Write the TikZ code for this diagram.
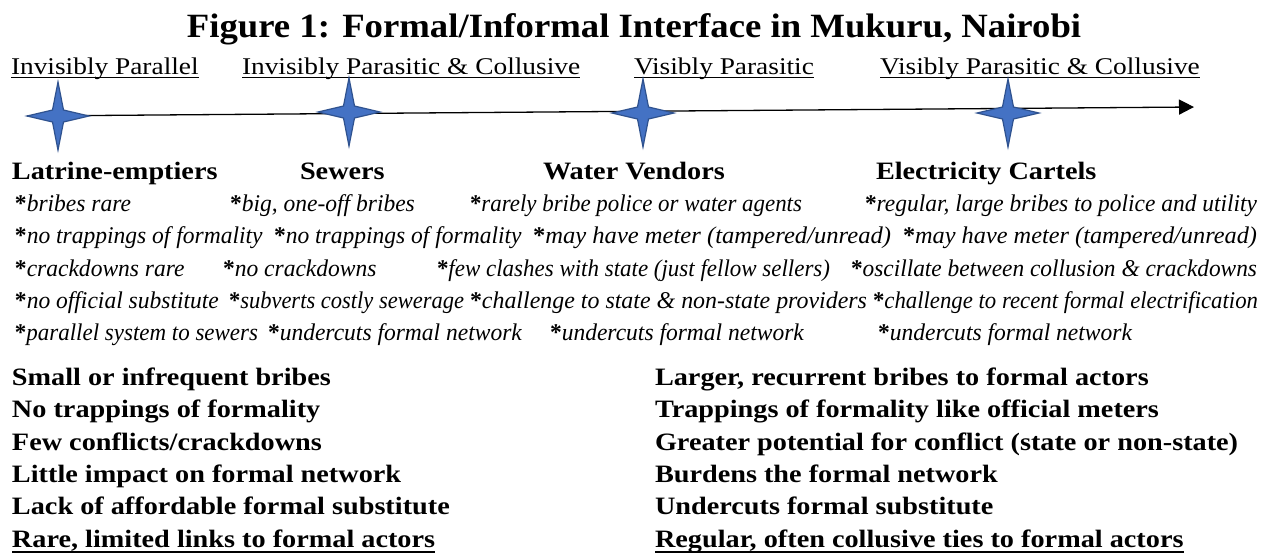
\documentclass[tikz,border=0pt]{standalone}
\usepackage{graphicx}
\usepackage{fontspec}
\setmainfont{Liberation Serif}
\newfontfamily\titlefont[FakeStretch=1.08]{Liberation Serif}
\newfontfamily\stagefont[FakeStretch=1.14]{Liberation Serif}
\newfontfamily\bodyfont[FakeStretch=1.13]{Liberation Serif}
\newfontfamily\notefont[FakeStretch=0.98]{Liberation Serif}
\usetikzlibrary{arrows.meta}

\definecolor{starblue}{HTML}{4472C4}
\definecolor{starline}{HTML}{2F528F}

% bold upright asterisk that opens each italic note
\newcommand\notemark{{\upshape\bfseries *}}
% set a note to a given width, keeping its height
\newcommand\fitto[2]{\resizebox{#1}{\height}{#2}}

\tikzset{
  figtitle/.style={anchor=base, inner sep=0pt, outer sep=0pt,
    font=\titlefont\bfseries\fontsize{34}{40}\selectfont},
  stage/.style={anchor=base west, inner sep=0pt, outer sep=0pt,
    font=\stagefont\fontsize{24}{28}\selectfont},
  casehead/.style={anchor=base west, inner sep=0pt, outer sep=0pt,
    font=\bodyfont\bfseries\fontsize{25}{30}\selectfont},
  note/.style={anchor=base west, inner sep=0pt, outer sep=0pt,
    font=\notefont\itshape\fontsize{24}{28}\selectfont},
  trait/.style={casehead},
  stageline/.style={line width=1.3pt},
  traitline/.style={line width=1.6pt},
  axis/.style={line width=1.3pt, -{Triangle[length=15pt,width=15pt]}},
  spark/.pic={
    \filldraw[fill=starblue, draw=starline, line width=1.2pt, line join=miter]
      (-31,0) -- (-5.5,-6) -- (0,-34) -- (5.5,-6) -- (31,0)
      -- (5.5,6) -- (0,34) -- (-5.5,6) -- cycle;
  }
}

\begin{document}
\begin{tikzpicture}[x=1pt, y=-1pt]
\useasboundingbox (0,0) rectangle (1270,555);

% title
\node[figtitle] (title) at (634,37) {Figure 1: Formal/Informal Interface in Mukuru, Nairobi};

% stages along the continuum
\node[stage] (st1) at (11,74)  {Invisibly Parallel};
\node[stage] (st2) at (242,74) {Invisibly Parasitic \& Collusive};
\node[stage] (st3) at (634,74) {Visibly Parasitic};
\node[stage] (st4) at (880,74) {Visibly Parasitic \& Collusive};
\foreach \s in {st1,st2,st3,st4}
  \draw[stageline] ([yshift=-3.5pt]\s.base west) -- ([yshift=-3.5pt]\s.base east);

% continuum arrow with the four cases marked on it
\coordinate (tail) at (27,116);
\coordinate (head) at (1194,107);
\draw[axis] (tail) -- (head);
\pic at (58,116)  {spark};
\pic at (349,112) {spark};
\pic at (643,113) {spark};
\pic at (1008,113) {spark};

% cases
\node[casehead] (hd1) at (12,179)  {Latrine-emptiers};
\node[casehead] (hd2) at (300,179) {Sewers};
\node[casehead] (hd3) at (543,179) {Water Vendors};
\node[casehead] (hd4) at (876,179) {Electricity Cartels};

% notes, row 1
\node[note] (n11) at (15,211)  {\notemark bribes rare};
\node[note] (n12) at (230,211) {\notemark big, one-off bribes};
\node[note] (n13) at (470,211) {\fitto{332pt}{\notemark rarely bribe police or water agents}};
\node[note] (n14) at (865,211) {\fitto{392pt}{\notemark regular, large bribes to police and utility}};
% row 2
\node[note] (n21) at (15,243.5)  {\notemark no trappings of formality};
\node[note] (n22) at (274,243.5) {\notemark no trappings of formality};
\node[note] (n23) at (533,243.5) {\fitto{358pt}{\notemark may have meter (tampered/unread)}};
\node[note] (n24) at (903,243.5) {\fitto{354pt}{\notemark may have meter (tampered/unread)}};
% row 3
\node[note] (n31) at (15,276)  {\notemark crackdowns rare};
\node[note] (n32) at (223,276) {\notemark no crackdowns};
\node[note] (n33) at (437,276) {\fitto{393pt}{\notemark few clashes with state (just fellow sellers)}};
\node[note] (n34) at (851,276) {\fitto{406pt}{\notemark oscillate between collusion \& crackdowns}};
% row 4
\node[note] (n41) at (15,308)  {\notemark no official substitute};
\node[note] (n42) at (229,308) {\fitto{235pt}{\notemark subverts costly sewerage}};
\node[note] (n43) at (470,308) {\fitto{397pt}{\notemark challenge to state \& non-state providers}};
\node[note] (n44) at (873,308) {\fitto{385pt}{\notemark challenge to recent formal electrification}};
% row 5
\node[note] (n51) at (15,340)  {\fitto{243pt}{\notemark parallel system to sewers}};
\node[note] (n52) at (268,340) {\notemark undercuts formal network};
\node[note] (n53) at (550,340) {\notemark undercuts formal network};
\node[note] (n54) at (878,340) {\fitto{254pt}{\notemark undercuts formal network}};

% traits of the two ends of the continuum
\node[trait] (l1) at (12,385)   {Small or infrequent bribes};
\node[trait] (l2) at (12,417.5) {No trappings of formality};
\node[trait] (l3) at (12,450)   {Few conflicts/crackdowns};
\node[trait] (l4) at (12,482)   {Little impact on formal network};
\node[trait] (l5) at (12,514.5) {Lack of affordable formal substitute};
\node[trait] (l6) at (12,547)   {Rare, limited links to formal actors};

\node[trait] (r1) at (655,385)   {Larger, recurrent bribes to formal actors};
\node[trait] (r2) at (655,417.5) {Trappings of formality like official meters};
\node[trait] (r3) at (655,450)   {Greater potential for conflict (state or non-state)};
\node[trait] (r4) at (655,482)   {Burdens the formal network};
\node[trait] (r5) at (655,514.5) {Undercuts formal substitute};
\node[trait] (r6) at (655,547)   {Regular, often collusive ties to formal actors};

\draw[traitline] ([yshift=-5pt]l6.base west) -- ([yshift=-5pt]l6.base east);
\draw[traitline] ([yshift=-5pt]r6.base west) -- ([yshift=-5pt]r6.base east);
\end{tikzpicture}
\end{document}
